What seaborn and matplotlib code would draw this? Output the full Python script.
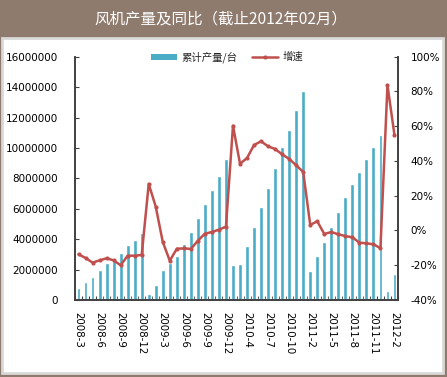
import numpy as np
import pandas as pd
import matplotlib
matplotlib.use('Agg')
import matplotlib.pyplot as plt
import seaborn as sns
from matplotlib.patches import Rectangle, Patch
from matplotlib.lines import Line2D

# 月份（1月数据缺失的年份直接跳过）
months = ['2008-3', '2008-4', '2008-5', '2008-6', '2008-7', '2008-8', '2008-9', '2008-10',
          '2008-11', '2008-12', '2009-1', '2009-2', '2009-3', '2009-4', '2009-5', '2009-6',
          '2009-7', '2009-8', '2009-9', '2009-10', '2009-11', '2009-12',
          '2010-2', '2010-3', '2010-4', '2010-5', '2010-6', '2010-7', '2010-8', '2010-9',
          '2010-10', '2010-11', '2010-12',
          '2011-2', '2011-3', '2011-4', '2011-5', '2011-6', '2011-7', '2011-8', '2011-9',
          '2011-10', '2011-11', '2011-12', '2012-1', '2012-2']

# 累计产量/台
output = [810000, 1180000, 1520000, 1970000, 2430000, 2750000, 3070000, 3600000,
          3970000, 4430000, 420000, 1010000, 1970000, 2430000, 2890000, 3680000,
          4490000, 5400000, 6310000, 7220000, 8180000, 9280000,
          2300000, 2370000, 3550000, 4810000, 6130000, 7390000, 8700000, 10040000,
          11200000, 12500000, 13730000,
          1910000, 2890000, 3820000, 4800000, 5770000, 6760000, 7650000, 8440000,
          9260000, 10040000, 10830000, 610000, 1710000]

# 增速（%）
growth = [-13.7, -15.8, -18.5, -17.2, -16.0, -17.2, -20.0, -14.5,
          -14.5, -14.1, 26.8, 13.7, -6.6, -17.4, -10.5, -10.3,
          -10.6, -5.9, -1.8, -0.9, 0.5, 2.2,
          60.3, 38.4, 41.7, 49.2, 51.3, 48.4, 46.9, 43.8,
          41.2, 37.5, 33.7,
          3.2, 5.3, -2.0, -0.9, -2.2, -3.2, -3.9, -7.0,
          -7.4, -7.9, -10.2, 83.7, 54.8]

bar_color = '#4BACC6'
line_color = '#C0504D'
brown = '#8F7B6E'

df = pd.DataFrame({'month': months, 'output': output, 'growth': growth})
df['pos'] = np.arange(len(df))

sns.set_theme(style='white')
plt.rcParams['font.family'] = ['DejaVu Sans', 'Noto Sans CJK SC']
cjk = ['Noto Sans CJK SC', 'DejaVu Sans']

W, H = 447, 377
fig = plt.figure(figsize=(W / 100, H / 100), dpi=100, facecolor=brown)

# 白色内容区域（放在坐标轴后面）
fig.patches.append(Rectangle((2 / W, 4 / H), 441 / W, 335 / H, transform=fig.transFigure,
                             facecolor='white', edgecolor='#D9D9D9', linewidth=2, zorder=-10))

fig.text(221 / W, 1 - 19 / H, '风机产量及同比（截止2012年02月）', color='white',
         fontsize=11.2, ha='center', va='center', family=cjk)

ax = fig.add_axes([75 / W, 1 - 300 / H, 323 / W, 243.3 / H])
ax.set_facecolor('none')
sns.barplot(data=df, x='month', y='output', color=bar_color, saturation=1,
            width=0.55, ax=ax)

ax2 = ax.twinx()
sns.lineplot(data=df, x='pos', y='growth', color=line_color, linewidth=1.8,
             marker='o', markersize=3, markeredgewidth=0, ax=ax2)

ax.set_xlim(-0.5, len(df) - 0.5)
ax.set_ylim(0, 16000000)
ax2.set_ylim(-40, 100)

ax.set_yticks(np.arange(0, 16000001, 2000000))
ax.set_yticklabels([str(v) for v in range(0, 16000001, 2000000)])
ax2.set_yticks(np.arange(-40, 101, 20))
ax2.set_yticklabels([f'{v}%' for v in range(-40, 101, 20)])

ax.set_xticks(np.arange(0, len(df), 3))
ax.set_xticklabels(months[::3], rotation=-90)
ax.set_xticks(np.arange(-0.5, len(df), 1), minor=True)

ax.set_xlabel('')
ax.set_ylabel('')
ax2.set_xlabel('')
ax2.set_ylabel('')

ax.tick_params(axis='x', which='major', length=0, pad=9, labelsize=7.4, colors='black')
ax.tick_params(axis='x', which='minor', direction='in', length=3, width=0.8,
               color='#404040', bottom=True)
ax.tick_params(axis='y', direction='in', length=3, width=0.8, color='#404040',
               pad=12, labelsize=7.5, labelcolor='black', left=True)
ax2.tick_params(axis='y', direction='in', length=3, width=0.8, color='#404040',
                pad=9, labelsize=7.5, labelcolor='black', right=True)

for a in (ax, ax2):
    a.spines['top'].set_visible(False)
    for s in ('left', 'right', 'bottom'):
        a.spines[s].set_color('#404040')
        a.spines[s].set_linewidth(1.2)
    a.grid(False)

handles = [Patch(facecolor=bar_color, edgecolor='none'),
           Line2D([], [], color=line_color, linewidth=1.8, marker='o', markersize=3,
                  markeredgewidth=0)]
fig.legend(handles, ['累计产量/台', '增速'], loc='center',
           bbox_to_anchor=(227 / W, 1 - 57 / H), ncol=2, frameon=False,
           prop={'family': cjk, 'size': 7.5}, handlelength=2.5, handleheight=0.5,
           handletextpad=0.4, columnspacing=1.4)

fig.savefig('out.png', dpi=100, facecolor=brown)
